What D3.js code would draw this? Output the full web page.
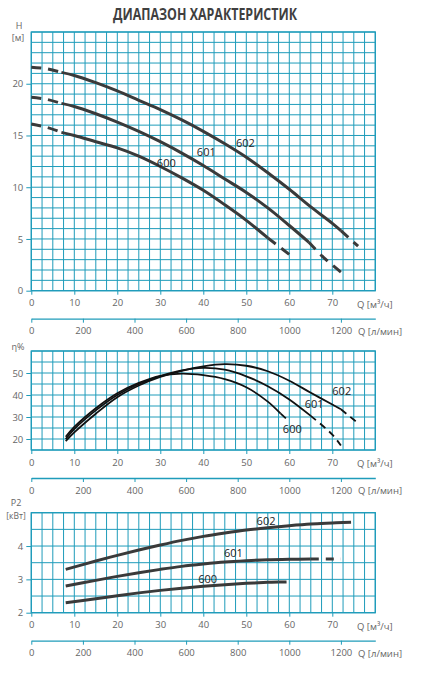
<!DOCTYPE html>
<html>
<head>
<meta charset="utf-8">
<script src="https://cdn.jsdelivr.net/npm/d3@7"></script>
<style>
  body { margin: 0; background: #fff; }
  svg { display: block; font-family: "Open Sans", sans-serif; }
</style>
</head>
<body>
<svg width="425" height="674"></svg>
<script>
// ---- data ----
var models = ["600", "601", "602"];

// H [m] vs Q [m3/h]
var head600 = [[0,16.1],[3.5,15.8],[7,15.3],[10,15.0],[15,14.4],[20,13.8],[25,13.0],[30,12.0],[35,10.9],[40,9.7],[45,8.3],[50,6.8],[55,5.1],[60,3.5]];
var head601 = [[0,18.7],[3.5,18.5],[7,18.1],[10,17.8],[15,17.1],[20,16.3],[25,15.4],[30,14.4],[35,13.3],[40,12.1],[45,10.8],[50,9.5],[55,8.0],[60,6.3],[64.5,4.7],[68,3.2],[72,1.8]];
var head602 = [[0,21.6],[3.5,21.45],[7,21.1],[10,20.8],[15,20.1],[20,19.3],[25,18.4],[30,17.5],[35,16.5],[40,15.4],[45,14.2],[50,12.9],[55,11.4],[60,9.8],[65,8.1],[70,6.5],[72,5.8],[76,4.3]];

// efficiency [%]
var eff600 = [[8,21],[10,25.5],[15,34],[20,40.8],[25,45.5],[30,48.7],[35,49.7],[40,49.0],[45,47.2],[50,43.5],[55,37],[58,31.5],[60,28]];
var eff601 = [[8,20],[10,24.5],[15,33],[20,40],[25,45],[30,48.6],[35,51.2],[40,52.3],[45,51.5],[50,48.5],[55,44],[60,38],[65,30.5],[70,22],[72,17]];
var eff602 = [[8,19],[10,23],[15,31.5],[20,39],[25,44.3],[30,48.2],[35,51],[40,53],[45,54],[50,53.3],[55,50.8],[60,46.5],[65,41],[70,35.7],[72,33.5],[76,27.2]];

// P2 [kW]
var pow600 = [[8,2.3],[15,2.42],[20,2.51],[25,2.595],[30,2.67],[35,2.735],[40,2.79],[45,2.84],[50,2.88],[55,2.91],[57.5,2.92],[60,2.925]];
var pow601 = [[8,2.8],[15,2.97],[20,3.09],[25,3.2],[30,3.3],[35,3.39],[40,3.46],[45,3.52],[50,3.56],[55,3.59],[60,3.6],[65,3.61],[72,3.61]];
var pow602 = [[8,3.3],[15,3.55],[20,3.72],[25,3.88],[30,4.03],[35,4.17],[40,4.29],[45,4.39],[50,4.48],[55,4.55],[60,4.61],[65,4.66],[70,4.69],[72.5,4.705],[75,4.715]];

// where the curves are solid (outside: dashed)
var headSolid = [[7,55],[7,64.5],[7,72]];
var effSolid = [[8,58],[8,65],[8,72]];
var powSolid = [[8,57.5],[8,65],[8,72.5]];

var qTicks = [0,10,20,30,40,50,60,70];
var lminTicks = [0,200,400,600,800,1000,1200];
var headTicks = [0,5,10,15,20];
var effTicks = [20,30,40,50];
var powTicks = [2,3,4];

// label positions [Q, value] of model names (text starts here)
var headLabels = [[29.2,12.0],[38.5,13.0],[47.6,13.9]];
var effLabels = [[58.5,22.9],[63.6,34],[70,40]];
var powLabels = [[38.8,2.88],[44.8,3.66],[52.4,4.63]];

var svg = d3.select("svg");
var teal = "#1f9cba";
var ink = "#3a3a3a";
var fmt = d3.format("d");

svg.append("text")
    .attr("x", 113).attr("y", 20)
    .attr("textLength", 184).attr("lengthAdjust", "spacingAndGlyphs")
    .attr("font-size", 16).attr("font-weight", "bold").attr("fill", "#3f3f3f")
    .text("ДИАПАЗОН ХАРАКТЕРИСТИК");

var x = d3.scaleLinear().domain([0, 80]).range([31.3, 375.3]);

function panel(opt) {
    var y = d3.scaleLinear().domain(opt.domain).range([opt.bottom, opt.top]);
    var g = svg.append("g");

    // grid
    g.selectAll(".vg").data(d3.range(0, 80.01, 2.5)).enter().append("line")
        .attr("x1", d => x(d)).attr("x2", d => x(d))
        .attr("y1", opt.top).attr("y2", opt.bottom)
        .attr("stroke", teal).attr("stroke-width", 1);
    g.selectAll(".hg").data(d3.range(opt.domain[0], opt.domain[1] + 0.001, opt.step)).enter().append("line")
        .attr("x1", x(0)).attr("x2", x(80))
        .attr("y1", d => y(d)).attr("y2", d => y(d))
        .attr("stroke", teal).attr("stroke-width", 1);
    g.append("rect")
        .attr("x", x(0)).attr("y", opt.top)
        .attr("width", x(80) - x(0)).attr("height", opt.bottom - opt.top)
        .attr("fill", "none").attr("stroke", teal).attr("stroke-width", 1.3);

    // y axis
    var ya = g.append("g").attr("transform", "translate(" + x(0) + ",0)")
        .call(d3.axisLeft(y).tickValues(opt.ticks).tickFormat(fmt).tickSize(5).tickPadding(3));
    ya.select(".domain").remove();
    ya.selectAll("line").attr("stroke", teal);
    ya.selectAll("text").attr("fill", "#666").attr("font-size", 9.5).attr("font-family", "Open Sans");

    opt.yTitle.forEach(function(t) {
        g.append("text").attr("x", t[1]).attr("y", t[2])
            .attr("text-anchor", "middle").attr("font-size", t[3] || 9).attr("fill", "#666")
            .text(t[0]);
    });

    // Q m3/h axis
    var xa = g.append("g").attr("transform", "translate(0," + opt.bottom + ")")
        .call(d3.axisBottom(x).tickValues(qTicks).tickFormat(fmt).tickSize(4).tickPadding(5));
    xa.select(".domain").remove();
    xa.selectAll("line").attr("stroke", teal);
    xa.selectAll("text").attr("fill", "#666").attr("font-size", 9.5).attr("font-family", "Open Sans");
    g.append("text").attr("x", 357).attr("y", opt.bottom + 17)
        .attr("font-size", 9.5).attr("fill", "#666").text("Q [м³/ч]");

    // Q l/min axis
    var xl = d3.scaleLinear().domain([0, 80 / 0.06]).range(x.range());
    var la = g.append("g").attr("transform", "translate(0," + (opt.bottom + 28) + ")")
        .call(d3.axisBottom(xl).tickValues(lminTicks).tickFormat(fmt).tickSize(4).tickSizeOuter(0).tickPadding(5));
    la.select(".domain").attr("stroke", teal).attr("stroke-width", 1.3);
    la.selectAll("line").attr("stroke", teal);
    la.selectAll("text").attr("fill", "#666").attr("font-size", 9.5).attr("font-family", "Open Sans");
    g.append("text").attr("x", 358).attr("y", opt.bottom + 44)
        .attr("font-size", 9.5).attr("fill", "#666").text("Q [л/мин]");

    // curves
    var line = d3.line().x(d => x(d[0])).y(d => y(d[1])).curve(d3.curveCatmullRom.alpha(0.5));
    opt.series.forEach(function(s, i) {
        var lo = opt.solid[i][0], hi = opt.solid[i][1];
        var head = s.filter(d => d[0] <= lo);
        var mid = s.filter(d => d[0] >= lo && d[0] <= hi);
        var tail = s.filter(d => d[0] >= hi);
        [[head, opt.dash], [mid, null], [tail, opt.dash]].forEach(function(p) {
            if (p[0].length < 2) return;
            g.append("path").attr("d", line(p[0]))
                .attr("fill", "none").attr("stroke", opt.color)
                .attr("stroke-width", opt.width)
                .attr("stroke-dasharray", p[1]);
        });
    });

    g.selectAll(".lbl").data(opt.labels).enter().append("text")
        .attr("x", d => x(d[0])).attr("y", d => y(d[1]))
        .attr("font-size", 11).attr("fill", "#222")
        .text((d, i) => models[i]);
}

panel({
    domain: [0, 25], step: 1, top: 32, bottom: 290.7,
    ticks: headTicks, yTitle: [["H", 19, 29], ["[м]", 18, 41]],
    series: [head600, head601, head602], solid: headSolid, labels: headLabels,
    color: ink, width: 3, dash: "10,7"
});

panel({
    domain: [15, 60], step: 5, top: 351, bottom: 450,
    ticks: effTicks, yTitle: [["η%", 18, 350]],
    series: [eff600, eff601, eff602], solid: effSolid, labels: effLabels,
    color: "#111", width: 1.8, dash: "7,5"
});

panel({
    domain: [2, 5], step: 0.5, top: 512.7, bottom: 612.7,
    ticks: powTicks, yTitle: [["P2", 16, 506], ["[кВт]", 16, 519, 8.5]],
    series: [pow600, pow601, pow602], solid: powSolid, labels: powLabels,
    color: ink, width: 3, dash: "8,7"
});
</script>
</body>
</html>
